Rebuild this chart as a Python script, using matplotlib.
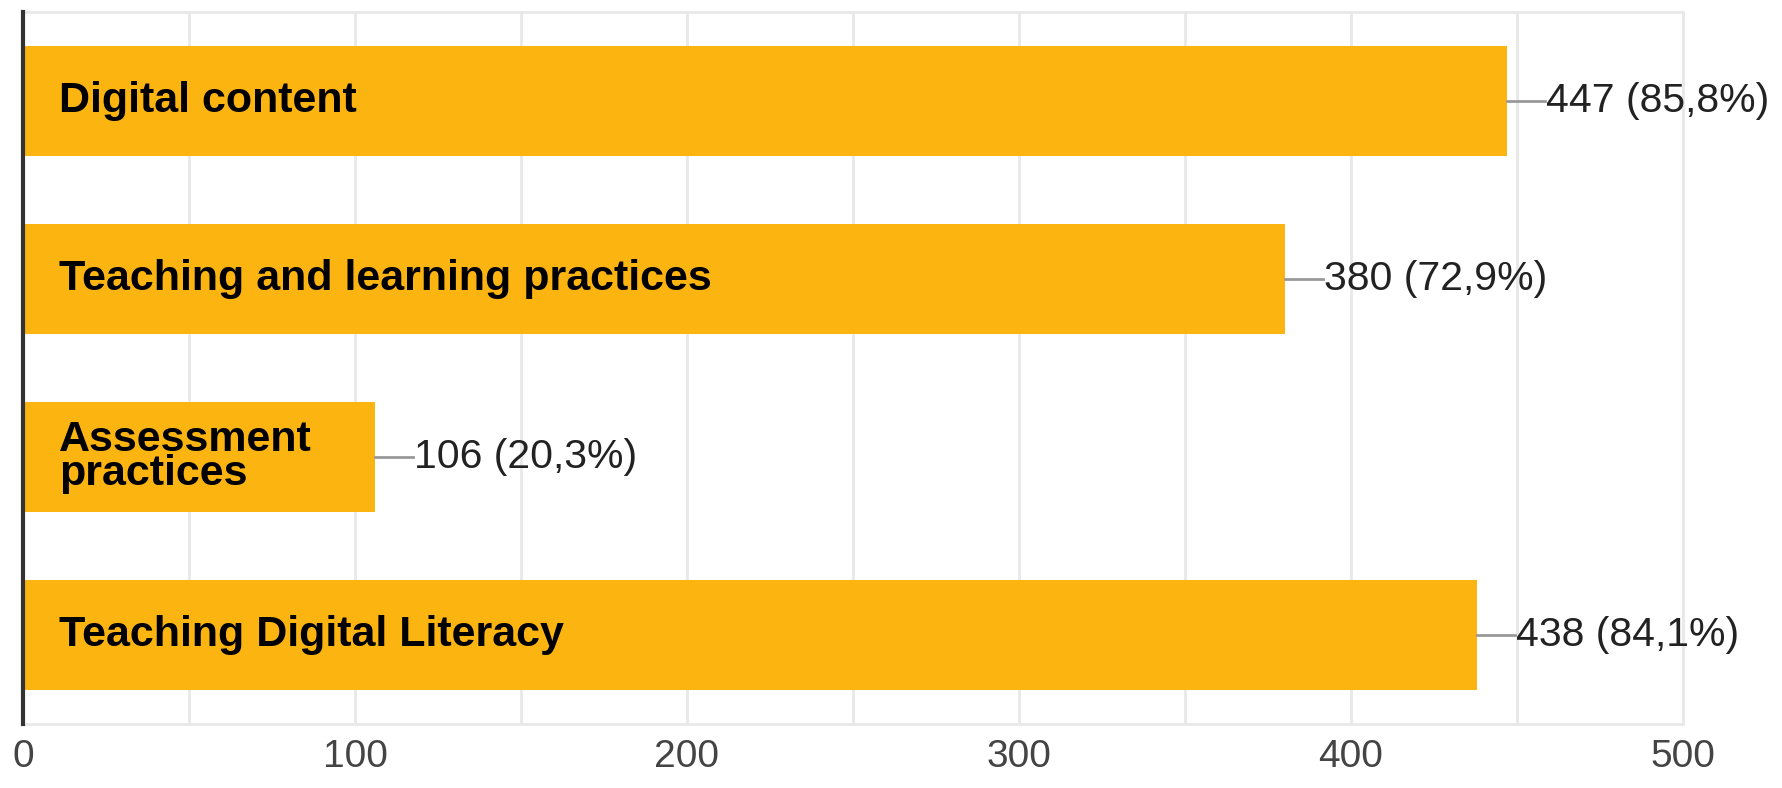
import numpy as np
import matplotlib.pyplot as plt

# survey answers
categories = ["Digital content", "Teaching and learning practices",
              "Assessment\npractices", "Teaching Digital Literacy"]
counts = [447, 380, 106, 438]
shares = ["85,8%", "72,9%", "20,3%", "84,1%"]
xticks = [0, 100, 200, 300, 400, 500]

BAR = "#FCB410"
GRID = "#E8E8E8"

plt.rcParams["font.family"] = ["Liberation Sans", "DejaVu Sans"]

fig = plt.figure(figsize=(17.82, 7.88), dpi=100)
ax = fig.add_axes([0.0129, 0.0812, 0.9315, 0.9036])

y = np.arange(len(categories))
ax.barh(y, counts, height=0.62, color=BAR, zorder=2)
ax.set_ylim(len(categories) - 0.5, -0.5)
ax.set_xlim(0, 500)

# light vertical grid every 50
for gx in range(50, 501, 50):
    ax.axvline(gx, color=GRID, lw=2, zorder=0)

for i, (c, n, s) in enumerate(zip(categories, counts, shares)):
    ax.annotate(c, xy=(0, i), xytext=(26, 0), textcoords="offset points",
                ha="left", va="center", fontsize=31, fontweight="bold",
                color="black", linespacing=0.82, zorder=3)
    ax.plot([n, n + 11.5], [i, i], color="#999999", lw=2, zorder=3)
    ax.text(n + 11.8, i, f"{n} ({s})", ha="left", va="center",
            fontsize=29.5, color="#222222", zorder=3)

ax.set_xticks(xticks)
ax.set_xticklabels([str(t) for t in xticks], fontsize=28, color="#444444")
ax.tick_params(axis="x", length=0, pad=11)
ax.set_yticks([])

for side in ["top", "right", "bottom"]:
    ax.spines[side].set_color(GRID)
    ax.spines[side].set_linewidth(2)
ax.spines["left"].set_color("#333333")
ax.spines["left"].set_linewidth(3)
ax.spines["left"].set_zorder(4)

fig.savefig("out.png", dpi=100)
